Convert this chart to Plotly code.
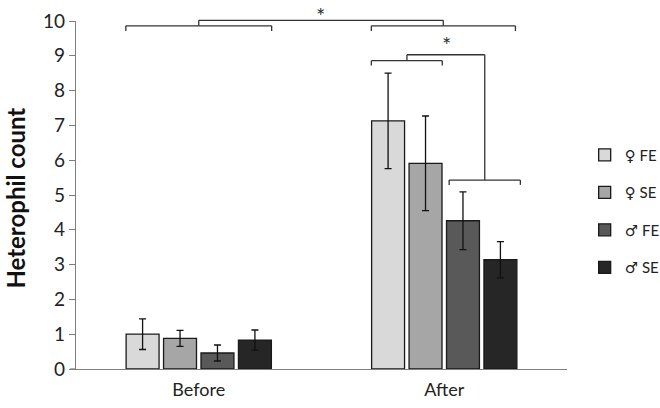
import plotly.graph_objects as go

# ---- data ----
groups = ["Before", "After"]
series_names = ["♀ FE", "♀ SE", "♂ FE", "♂ SE"]
means = {
    "♀ FE": [1.00, 7.13],
    "♀ SE": [0.88, 5.91],
    "♂ FE": [0.46, 4.26],
    "♂ SE": [0.83, 3.14],
}
errors = {
    "♀ FE": [0.44, 1.37],
    "♀ SE": [0.23, 1.36],
    "♂ FE": [0.23, 0.83],
    "♂ SE": [0.29, 0.52],
}
colors = ["#d9d9d9", "#a6a6a6", "#595959", "#262626"]
y_title = "Heterophil count"

YMAX = 10
FONT = "Lato, 'DejaVu Sans', sans-serif"
AXIS_COLOR = "#7f7f7f"

fig = go.Figure()
for i, name in enumerate(series_names):
    fig.add_trace(go.Bar(
        x=groups, y=means[name], name=name, legendgroup=name,
        marker=dict(color=colors[i], line=dict(color="#1a1a1a", width=1.3)),
        error_y=dict(type="data", array=errors[name], color="#111111",
                     thickness=1.3, width=3.5),
    ))

# significance brackets (x in category-index units, y in data units)
line_style = dict(color="#333333", width=1.3)

def seg(x0, y0, x1, y1):
    fig.add_shape(type="line", xref="x", yref="paper",
                  x0=x0, x1=x1, y0=y0 / YMAX, y1=y1 / YMAX, line=line_style)

def bracket(xa, xb, y, tick):
    seg(xa, y - tick, xa, y)
    seg(xa, y, xb, y)
    seg(xb, y, xb, y - tick)

# Before vs After
bracket(-0.297, 0.297, 9.86, 0.15)
bracket(0.703, 1.29, 9.86, 0.15)
seg(0.0, 9.86, 0.0, 10.02)
seg(0.0, 10.02, 0.996, 10.02)
seg(0.996, 10.02, 0.996, 9.86)

# Females vs males (After)
bracket(0.703, 0.992, 8.86, 0.14)
bracket(1.02, 1.31, 5.43, 0.14)
seg(0.848, 8.86, 0.848, 9.03)
seg(0.848, 9.03, 1.165, 9.03)
seg(1.165, 9.03, 1.165, 5.43)

fig.add_annotation(x=0.494, y=10.59 / YMAX, xref="x", yref="paper", text="*",
                   showarrow=False, yanchor="top",
                   font=dict(size=22, color="#333333", family=FONT))
fig.add_annotation(x=1.01, y=9.32 / YMAX, xref="x", yref="paper", text="*",
                   showarrow=False, yanchor="middle",
                   font=dict(size=22, color="#333333", family=FONT))

# y-axis title
fig.add_annotation(x=-0.124, y=0.49, xref="paper", yref="paper",
                   text="<b>" + y_title + "</b>", textangle=-90, showarrow=False,
                   xanchor="center", yanchor="middle",
                   font=dict(size=24, color="#111111", family=FONT))

# x-axis line stub left of the y axis
fig.add_shape(type="line", xref="paper", yref="y", x0=-0.012, x1=0, y0=0, y1=0,
              line=dict(color=AXIS_COLOR, width=1.3))

fig.update_layout(
    width=660, height=408,
    margin=dict(l=76, r=93, t=21, b=39, autoexpand=False),
    paper_bgcolor="white", plot_bgcolor="white",
    barmode="group", bargap=0.39, bargroupgap=0.12,
    font=dict(family=FONT, color="#222222"),
    showlegend=True,
    legend=dict(x=1.036, y=0.662, xanchor="left", yanchor="top",
                font=dict(size=15, family=FONT, color="#222222"),
                tracegroupgap=15, bgcolor="rgba(0,0,0,0)"),
    xaxis=dict(showline=True, linecolor=AXIS_COLOR, linewidth=1.3, ticks="",
               tickfont=dict(size=18, family=FONT), showgrid=False, zeroline=False,
               automargin=False, ticklabelstandoff=4),
    yaxis=dict(range=[0, YMAX], dtick=1, showline=True, linecolor=AXIS_COLOR,
               linewidth=1.3, ticks="outside", ticklen=6, tickcolor=AXIS_COLOR,
               tickfont=dict(size=19, family=FONT), showgrid=False, zeroline=False,
               automargin=False),
)

fig.write_html("out.html", config={"displayModeBar": False},
               post_script="document.body.style.margin='0';")
